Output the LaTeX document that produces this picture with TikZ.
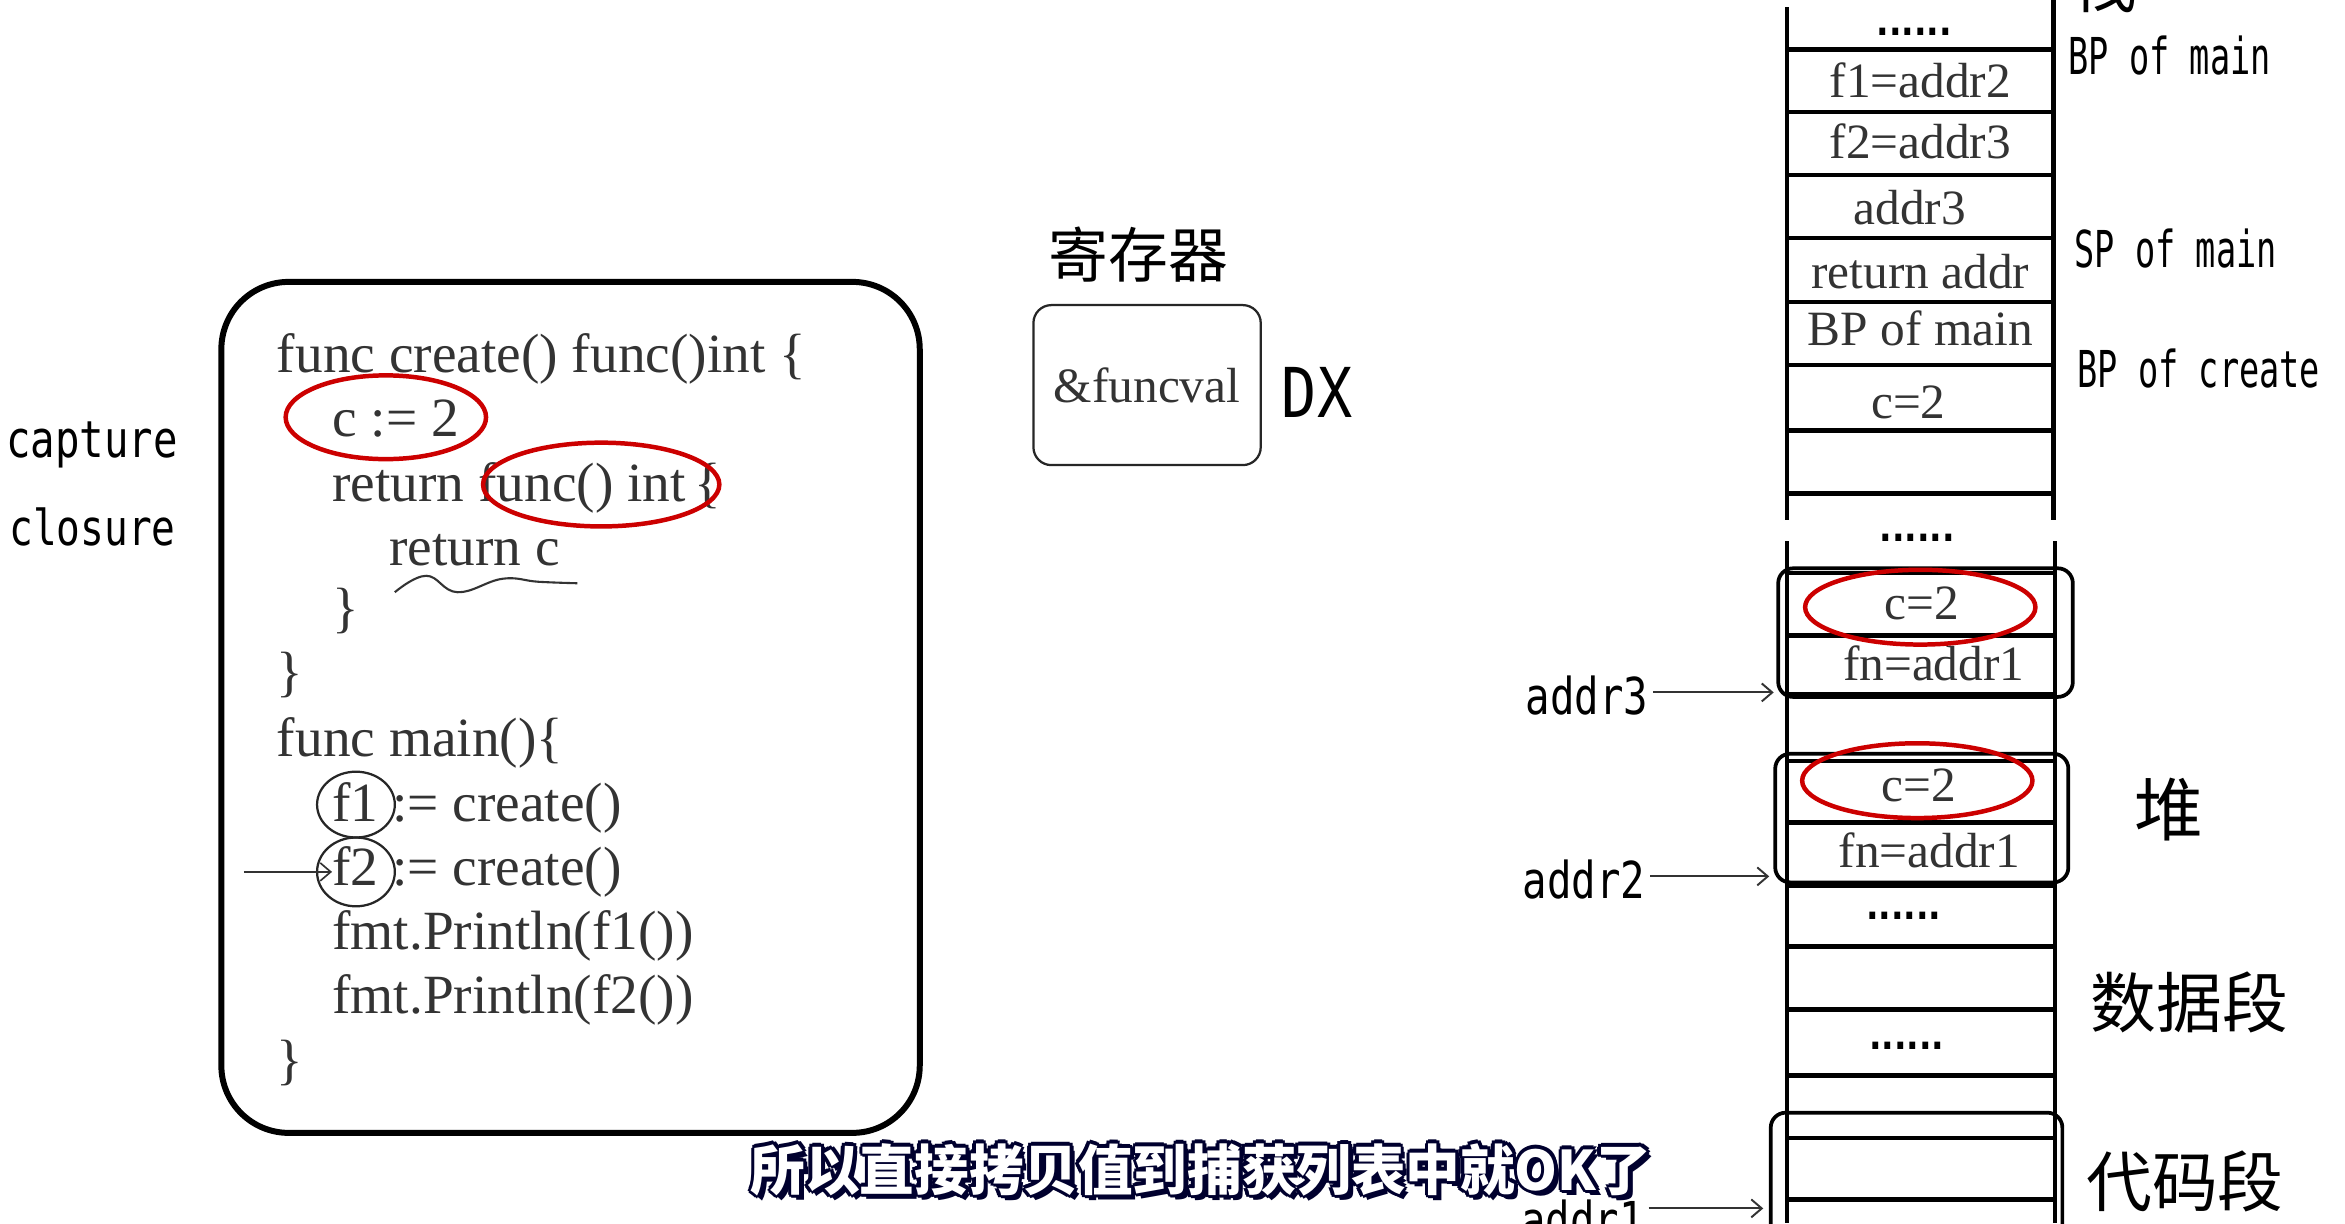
\documentclass[tikz,border=0pt]{standalone}
\usepackage{fontspec}
\setmainfont{Liberation Serif}
\newfontfamily\cjk{Noto Sans CJK SC}
\newfontfamily\handA[FakeStretch=0.66]{DejaVu Sans Mono}
\newfontfamily\handB[FakeStretch=0.8]{DejaVu Sans Mono}
\newfontfamily\handC[FakeStretch=0.85]{DejaVu Sans Mono}
\newfontfamily\dotfont[FakeStretch=0.85]{DejaVu Sans}
\usetikzlibrary{arrows.meta}
\begin{document}
\begin{tikzpicture}[x=1pt,y=-1pt,
  codeline/.style={anchor=base west,inner sep=0pt,text=black!80,font=\fontsize{37}{42}\selectfont},
  cell/.style={anchor=base,inner sep=0pt,text=black!80,font=\fontsize{33}{38}\selectfont},
  dotrow/.style={anchor=base,inner sep=0pt,font=\dotfont\bfseries\fontsize{26}{30}\selectfont},
  sidelbl/.style={anchor=base west,inner sep=0pt,font=\handA\fontsize{34}{40}\selectfont},
  addrlbl/.style={anchor=base west,inner sep=3pt,font=\handB\fontsize{34}{40}\selectfont},
  cjklbl/.style={inner sep=0pt,font=\cjk\fontsize{44}{50}\selectfont},
  redring/.style={draw=red!80!black,line width=3pt},
  blackring/.style={draw=black!85,line width=1.5pt},
  stackline/.style={draw=black,line width=3pt},
  heapbox/.style={draw=black,line width=2.5pt,rounded corners=10pt},
  ptr/.style={draw=black!80,line width=1.3pt,-{Straight Barb[length=7pt,width=12pt]}},
  subt/.style={inner sep=0pt,font=\cjk\bfseries\fontsize{36.5}{42}\selectfont}
]
\clip (0,0) rectangle (1568,818);
\fill[white] (0,0) rectangle (1568,818);

% ---------- code box ----------
\node[draw=black,line width=4pt,rounded corners=45pt,minimum width=467pt,minimum height=569pt,inner sep=0pt] (codebox) at (381.5,473) {};
\node[codeline] (l1) at (185,249) {func create() func()int \{};
\node[codeline] (l2) at (222,292) {c := 2};
\node[codeline] (l3) at (222,335) {return func() int\kern6pt\{};
\node[codeline] (l4) at (260,378) {return c};
\node[codeline] (l5) at (222,419) {\}};
\node[codeline] (l6) at (185,462) {\}};
\node[codeline] (l7) at (185,506) {func main()\{};
\node[codeline] (l8) at (222,549) {f1 := create()};
\node[codeline] (l9) at (222,592) {f2 := create()};
\node[codeline] (l10) at (222,635) {fmt.Println(f1())};
\node[codeline] (l11) at (222,678) {fmt.Println(f2())};
\node[codeline] (l12) at (185,721) {\}};

\draw[redring] (258,279) ellipse [x radius=67pt,y radius=28pt];
\draw[redring] (402,324) ellipse [x radius=79pt,y radius=28pt];
\draw[blackring] (238,538) ellipse [x radius=26pt,y radius=22pt];
\draw[blackring] (238,583) ellipse [x radius=26pt,y radius=23pt];
\coordinate (f2in) at (163,583);
\coordinate (f2tip) at (222,583);
\draw[ptr,line width=1.1pt] (f2in) -- (f2tip);
\draw[black!80,line width=1.4pt] plot[smooth,tension=0.7] coordinates {(264,396) (285,385) (306,396) (336,387) (360,389) (386,390)};

% ---------- left labels ----------
\node[addrlbl,inner sep=0pt] (cap) at (4,306) {capture};
\node[addrlbl,inner sep=0pt,font=\handB\fontsize{33}{40}\selectfont] (clo) at (6,365) {closure};

% ---------- register ----------
\node[cjklbl,font=\cjk\fontsize{40}{46}\selectfont] (regt) at (761,170) {寄存器};
\node[draw=black!85,line width=1.5pt,rounded corners=12pt,minimum width=152pt,minimum height=107pt,inner sep=0pt,text=black!80,font=\fontsize{33}{38}\selectfont] (reg) at (767,257.5) {\&funcval};
\node[anchor=base west,inner sep=0pt,font=\handC\fontsize{46}{52}\selectfont] (dx) at (857,279) {DX};

% ---------- stack ----------
\draw[stackline] (1195,5) -- (1195,348);
\draw[stackline] (1373,0) -- (1373,348);
\draw[stackline] (1195,362) -- (1195,818);
\draw[stackline] (1374,362) -- (1374,818);
\foreach \yy in {33,75,117,159,202,244,288,330,383,425,464,509,550,592,633,675,719,761,802}
  \draw[stackline] (1195,\yy) -- (1374,\yy);

\node[dotrow] (d1) at (1280,24) {......};
\node[cell] (s1) at (1284,65) {f1=addr2};
\node[cell] (s2) at (1284,106) {f2=addr3};
\node[cell] (s3) at (1277,150) {addr3};
\node[cell] (s4) at (1284,193) {return addr};
\node[cell] (s5) at (1284,231) {BP of main};
\node[cell] (s6) at (1276,280) {c=2};
\node[dotrow] (d2) at (1282,362) {......};

% heap
\node[heapbox,minimum width=197pt,minimum height=86pt,inner sep=0pt] (heap1) at (1287.5,423) {};
\node[cell] (h1c) at (1285,414) {c=2};
\node[cell] (h1f) at (1293,455) {fn=addr1};
\draw[redring] (1284,406) ellipse [x radius=77pt,y radius=25pt];

\node[heapbox,minimum width=196pt,minimum height=86pt,inner sep=0pt] (heap2) at (1285,547) {};
\node[cell] (h2c) at (1283,536) {c=2};
\node[cell] (h2f) at (1290,580) {fn=addr1};
\draw[redring] (1282,522) ellipse [x radius=77pt,y radius=25pt];

\node[dotrow] (d3) at (1273,615) {......};
\node[dotrow] (d4) at (1275,702) {......};

\node[heapbox,minimum width=195pt,minimum height=90pt,inner sep=0pt] (code3) at (1281.5,789) {};

% address labels and pointers
\node[addrlbl] (a3) at (1017,478) {addr3};
\coordinate (t3) at (1186,463);
\draw[ptr] (a3.east |- t3) -- (t3);
\node[addrlbl] (a2) at (1015,601) {addr2};
\coordinate (t2) at (1183,586);
\draw[ptr] (a2.east |- t2) -- (t2);
\node[addrlbl] (a1) at (1014,828) {addr1};
\coordinate (t1) at (1179,808);
\draw[ptr] (a1.east |- t1) -- (t1);

% right side labels
\node[cjklbl] (zhan) at (1407,-12) {栈};
\node[sidelbl] (r1) at (1383,50) {BP of main};
\node[sidelbl] (r2) at (1387,179) {SP of main};
\node[sidelbl] (r3) at (1389,259) {BP of create};
\node[cjklbl,font=\cjk\fontsize{46}{52}\selectfont] (dui) at (1450,541) {堆};
\node[cjklbl] (data) at (1464,670) {数据段};
\node[cjklbl] (text) at (1461,790) {代码段};

% ---------- subtitle ----------
\foreach \dx/\dy [count=\i] in {2.5/0,-2.5/0,0/2.5,0/-2.5,1.8/1.8,-1.8/1.8,1.8/-1.8,-1.8/-1.8,3/3.5}
  \node[subt,text=black!70!blue!60!black] (subo\i) at (803+\dx,782+\dy) {所以直接拷贝值到捕获列表中就OK了};
\node[subt,text=white] (sub) at (803,782) {所以直接拷贝值到捕获列表中就OK了};
\end{tikzpicture}
\end{document}
